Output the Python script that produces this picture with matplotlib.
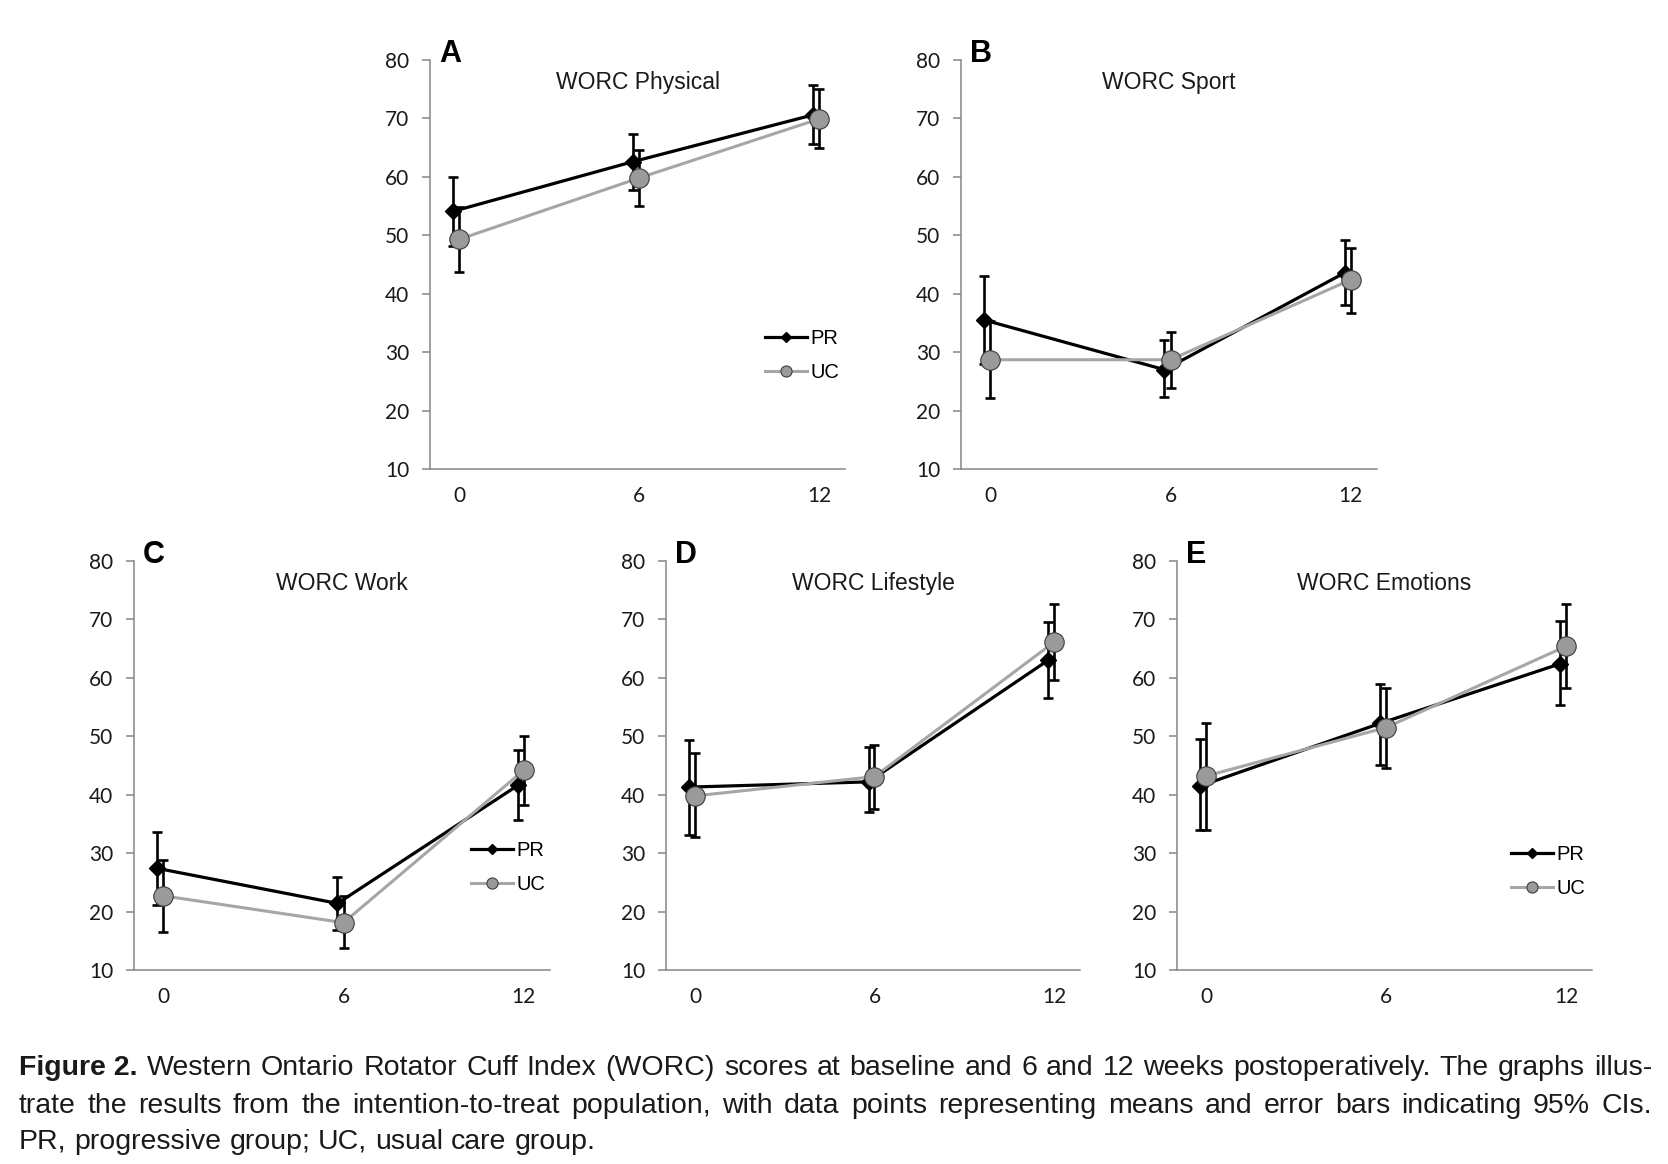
import matplotlib
matplotlib.use("Agg")
from matplotlib import pyplot as plt
from matplotlib.lines import Line2D

plt.rcParams['font.family'] = ['Liberation Sans', 'DejaVu Sans']

weeks = [0, 6, 12]
panel_letters = ["A", "B", "C", "D", "E"]
panel_titles = ["WORC Physical", "WORC Sport", "WORC Work", "WORC Lifestyle", "WORC Emotions"]

# one row per panel (A..E), one value per week (0, 6, 12)
# PR = progressive group
pr_mean = [[54.1, 62.6, 70.6], [35.5, 27.0, 43.6], [27.4, 21.4, 41.6], [41.3, 42.2, 63.0], [41.5, 52.2, 62.4]]
pr_low = [[48.2, 57.7, 65.6], [27.9, 22.4, 38.1], [21.1, 16.8, 35.6], [33.1, 37.1, 56.6], [33.9, 45.1, 55.3]]
pr_high = [[60.0, 67.3, 75.7], [43.1, 32.1, 49.2], [33.6, 26.0, 47.6], [49.3, 48.2, 69.6], [49.5, 59.0, 69.7]]
# UC = usual care group
uc_mean = [[49.3, 59.8, 69.9], [28.7, 28.7, 42.4], [22.7, 18.1, 44.2], [39.8, 43.1, 66.1], [43.2, 51.5, 65.4]]
uc_low = [[43.8, 55.0, 64.9], [22.1, 23.8, 36.7], [16.5, 13.7, 38.3], [32.7, 37.5, 59.7], [34.0, 44.5, 58.2]]
uc_high = [[54.8, 64.6, 75.0], [35.3, 33.5, 47.8], [28.8, 22.6, 50.1], [47.2, 48.5, 72.6], [52.2, 58.2, 72.6]]

caption_bold = "Figure 2."
caption_lines = [
    "Western Ontario Rotator Cuff Index (WORC) scores at baseline and 6 and 12 weeks postoperatively. The graphs illus-",
    "trate the results from the intention-to-treat population, with data points representing means and error bars indicating 95% CIs.",
    "PR, progressive group; UC, usual care group.",
]

W, H = 1668, 1164
fig = plt.figure(figsize=(W / 100, H / 100), dpi=100)

# axes boxes in pixels: left, top, right, bottom
boxes = [(430, 60, 845, 469), (961, 60, 1377, 469), (134, 561, 550, 970),
         (666, 561, 1080, 970), (1177, 561, 1592, 970)]
legend_pos = {0: (0.807, 0.278), 2: (0.81, 0.251), 4: (0.805, 0.24)}

axis_grey = "#868686"
uc_line = "#a6a6a6"
uc_fill = "#9a9a9a"

for i, (x0, y0, x1, y1) in enumerate(boxes):
    ax = fig.add_axes([x0 / W, 1 - y1 / H, (x1 - x0) / W, (y1 - y0) / H])

    x_pr = [w - 0.2 for w in weeks]
    x_uc = [w + 0.0 for w in weeks]

    # error bars (95% CI)
    ax.errorbar(x_pr, pr_mean[i],
                yerr=[[m - lo for m, lo in zip(pr_mean[i], pr_low[i])],
                      [hi - m for m, hi in zip(pr_mean[i], pr_high[i])]],
                fmt="none", ecolor="black", elinewidth=1.9, capsize=3.6, capthick=1.9, zorder=2)
    ax.errorbar(x_uc, uc_mean[i],
                yerr=[[m - lo for m, lo in zip(uc_mean[i], uc_low[i])],
                      [hi - m for m, hi in zip(uc_mean[i], uc_high[i])]],
                fmt="none", ecolor="black", elinewidth=1.9, capsize=3.6, capthick=1.9, zorder=2)

    ax.plot(x_pr, pr_mean[i], color="black", lw=2.3, marker="D", ms=8,
            mfc="black", mec="black", zorder=3)
    ax.plot(x_uc, uc_mean[i], color=uc_line, lw=2.2, marker="o", ms=14,
            mfc=uc_fill, mec="#3c3c3c", mew=0.8, zorder=4)

    ax.set_xlim(-0.97, 12.87)
    ax.set_ylim(10, 80)
    ax.set_xticks(weeks)
    ax.set_yticks(range(10, 81, 10))

    for side in ["top", "right"]:
        ax.spines[side].set_visible(False)
    for side in ["left", "bottom"]:
        ax.spines[side].set_color(axis_grey)
        ax.spines[side].set_linewidth(1.1)

    ax.tick_params(axis="y", direction="out", length=6, width=1.1, color=axis_grey,
                   labelsize=15, pad=9)
    ax.tick_params(axis="x", length=0, labelsize=15, pad=12.5)
    for lbl in ax.get_xticklabels() + ax.get_yticklabels():
        lbl.set_fontfamily("Lato")
        lbl.set_color("#1a1a1a")

    ax.text(0.5, 0.944, panel_titles[i], transform=ax.transAxes, ha="center",
            va="center", fontsize=16.5, color="#1a1a1a")
    ax.text(0.022, 1.015, panel_letters[i], transform=ax.transAxes, ha="left",
            va="center", fontsize=22, fontweight="bold")

    if i in legend_pos:
        handles = [
            Line2D([], [], color="black", lw=2.3, marker="D", ms=5, mfc="black", mec="black"),
            Line2D([], [], color=uc_line, lw=2.2, marker="o", ms=8, mfc=uc_fill,
                   mec="#3c3c3c", mew=0.8),
        ]
        ax.legend(handles, ["PR", "UC"], loc="center left", bbox_to_anchor=legend_pos[i],
                  frameon=False, borderpad=0, borderaxespad=0, handlelength=2.1,
                  handletextpad=0.15, labelspacing=0.75, fontsize=14.5)

# caption, justified like the journal text block
renderer = fig.canvas.get_renderer()
left_px, right_px = 19, 1652
baselines = [1075, 1113, 1149]
line_tokens = [[caption_bold] + caption_lines[0].split(" "),
               caption_lines[1].split(" "),
               caption_lines[2].split(" ")]


def token_widths(tokens, size, bold_first):
    ws = []
    for k, tok in enumerate(tokens):
        t = fig.text(0, 0, tok, fontsize=size,
                     fontweight="bold" if (bold_first and k == 0) else "normal")
        ws.append(t.get_window_extent(renderer).width)
        t.remove()
    return ws


def space_px(size):
    return 0.278 * size * 100 / 72


# pick the size at which the first line fills the text block
ws10 = token_widths(line_tokens[0], 10, True)
natural10 = sum(ws10) + (len(ws10) - 1) * space_px(10)
cap_size = 10 * (right_px - left_px) / natural10 * 0.99


def put_line(tokens, bold_first, y_px, justify):
    widths = token_widths(tokens, cap_size, bold_first)
    if justify:
        gap = (right_px - left_px - sum(widths)) / (len(tokens) - 1)
    else:
        gap = space_px(cap_size)
    x = left_px
    for k, (tok, w) in enumerate(zip(tokens, widths)):
        fig.text(x / W, 1 - y_px / H, tok, fontsize=cap_size, va="baseline", ha="left",
                 fontweight="bold" if (bold_first and k == 0) else "normal", color="#1a1a1a")
        x += w + gap


put_line(line_tokens[0], True, baselines[0], True)
put_line(line_tokens[1], False, baselines[1], True)
put_line(line_tokens[2], False, baselines[2], False)

fig.savefig("out.png", dpi=100, facecolor="white")
